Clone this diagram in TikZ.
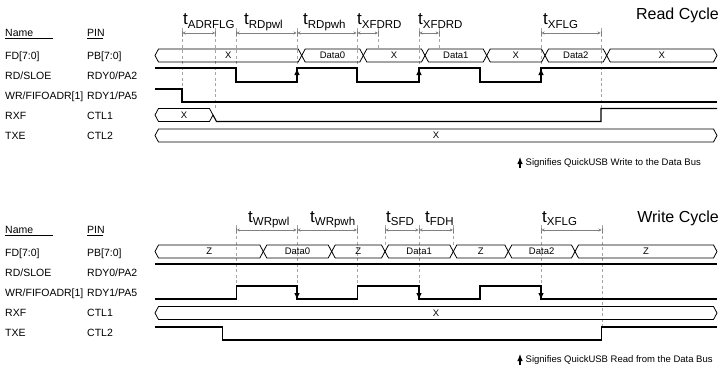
\documentclass[tikz,border=0pt]{standalone}
\usepackage{fontspec}
\setmainfont{Liberation Sans}
\usetikzlibrary{arrows.meta}

\newcommand{\busseg}[5]{%
  \draw[bus] (#3,#2) -- (#3+3.5,#2-6.5) -- (#4-3.5,#2-6.5) -- (#4,#2)
    -- (#4-3.5,#2+6.5) -- (#3+3.5,#2+6.5) -- cycle;
  \node[buslbl] (#1) at ({(#3+#4)/2},#2) {#5};}
\newcommand{\tsub}[1]{t\raisebox{-3.5pt}{\fontsize{11.5}{12}\selectfont #1}}

\begin{document}
\begin{tikzpicture}[x=1pt,y=-1pt,
    sig/.style={anchor=base west,inner sep=0pt,font=\fontsize{10.5}{12}\selectfont},
    heading/.style={anchor=east,inner sep=0pt,font=\fontsize{16}{18}\selectfont},
    tlbl/.style={anchor=base west,inner sep=0pt,font=\fontsize{17}{18}\selectfont},
    note/.style={anchor=west,inner sep=0pt,font=\fontsize{9.5}{11}\selectfont},
    bus/.style={line width=0.8pt},
    buslbl/.style={inner sep=0pt,font=\fontsize{9.5}{11}\selectfont},
    wave/.style={line width=1.1pt},
    guide/.style={gray!70,dash pattern=on 3pt off 2.5pt,line width=0.7pt},
    dim/.style={gray,line width=0.5pt,>={Stealth[length=3pt,width=3pt]},|<->|},
    upar/.style={line width=1.1pt,-{Latex[length=7pt,width=5.5pt]}}]
    \useasboundingbox (0,0) rectangle (725,372);

    % Read Cycle
    \node[heading] (read) at (719,15) {Read Cycle};
    \node[sig] (rname) at (5,36.5) {Name};
    \node[sig] (rpin) at (87,36.5) {PIN};
    \draw[line width=0.6pt] (5,38.5) -- (53,38.5) (87,38.5) -- (103,38.5);
    \node[sig] (rfd) at (5,59) {FD[7:0]};
    \node[sig] (rfdp) at (87,59) {PB[7:0]};
    \node[sig] (rrd) at (5,79) {RD/SLOE};
    \node[sig] (rrdp) at (87,79) {RDY0/PA2};
    \node[sig] (rwr) at (5,99) {WR/FIFOADR[1]};
    \node[sig] (rwrp) at (87,99) {RDY1/PA5};
    \node[sig] (rrxf) at (5,119) {RXF};
    \node[sig] (rrxfp) at (87,119) {CTL1};
    \node[sig] (rtxe) at (5,139) {TXE};
    \node[sig] (rtxep) at (87,139) {CTL2};

    \draw[guide] (182,28) -- (182,89);
    \draw[guide] (215.7,28) -- (215.7,108.5);
    \draw[guide] (236,28) -- (236,68);
    \draw[guide] (297,28) -- (297,68);
    \draw[guide] (357,28) -- (357,68);
    \draw[guide] (378.3,28) -- (378.3,49);
    \draw[guide] (419,28) -- (419,68);
    \draw[guide] (439.3,28) -- (439.3,49);
    \draw[guide] (541,28) -- (541,68);
    \draw[guide] (601,28) -- (601,108.5);

    \draw[dim] (182,33) -- (215.7,33);
    \draw[dim] (236,33) -- (297,33);
    \draw[dim] (297,33) -- (357,33);
    \draw[dim] (357,33) -- (378.3,33);
    \draw[dim] (419,33) -- (439.3,33);
    \draw[dim] (541,33) -- (601,33);

    \node[tlbl] (tadrflg) at (183,24.5) {\tsub{ADRFLG}};
    \node[tlbl] (trdpwl) at (244,24.5) {\tsub{RDpwl}};
    \node[tlbl] (trdpwh) at (303,24.5) {\tsub{RDpwh}};
    \node[tlbl] (txfdrd1) at (357,24.5) {\tsub{XFDRD}};
    \node[tlbl] (txfdrd2) at (418,24.5) {\tsub{XFDRD}};
    \node[tlbl] (trxflg) at (543,24.5) {\tsub{XFLG}};

    \busseg{rfd1}{55.5}{155}{301.7}{X}
    \busseg{rfd2}{55.5}{301.7}{363.3}{Data0}
    \busseg{rfd3}{55.5}{363.3}{425}{X}
    \busseg{rfd4}{55.5}{425}{486.7}{Data1}
    \busseg{rfd5}{55.5}{486.7}{545}{X}
    \busseg{rfd6}{55.5}{545}{606.7}{Data2}
    \busseg{rfd7}{55.5}{606.7}{717}{X}
    \draw[wave] (155,68) -| (236,82) -| (297,68) -| (357,82) -| (419,68)
        -| (480,82) -| (541,68) -- (717,68);
    \draw[upar] (297,81) -- (297,68);
    \draw[upar] (419,81) -- (419,68);
    \draw[upar] (541,81) -- (541,68);
    \draw[wave] (155,89) -| (182,102) -- (717,102);
    \busseg{rrxf1}{115}{155}{213}{X}
    \draw[wave] (213,115) -- (216.5,121.5) -| (601,108.5) -- (717,108.5);
    \busseg{rtxe1}{135.5}{155}{717}{X}

    \draw[upar] (520,168) -- (520,157);
    \node[note] (rnote) at (525.5,163) {Signifies QuickUSB Write to the Data Bus};

    % Write Cycle
    \node[heading] (write) at (719,218) {Write Cycle};
    \node[sig] (wname) at (5,233.5) {Name};
    \node[sig] (wpin) at (87,233.5) {PIN};
    \draw[line width=0.6pt] (5,235.5) -- (53,235.5) (87,235.5) -- (103,235.5);
    \node[sig] (wfd) at (5,256) {FD[7:0]};
    \node[sig] (wfdp) at (87,256) {PB[7:0]};
    \node[sig] (wrd) at (5,276) {RD/SLOE};
    \node[sig] (wrdp) at (87,276) {RDY0/PA2};
    \node[sig] (wwr) at (5,296) {WR/FIFOADR[1]};
    \node[sig] (wwrp) at (87,296) {RDY1/PA5};
    \node[sig] (wrxf) at (5,316) {RXF};
    \node[sig] (wrxfp) at (87,316) {CTL1};
    \node[sig] (wtxe) at (5,336) {TXE};
    \node[sig] (wtxep) at (87,336) {CTL2};

    \draw[guide] (236.3,225) -- (236.3,286);
    \draw[guide] (297,225) -- (297,299);
    \draw[guide] (357.3,225) -- (357.3,286);
    \draw[guide] (385,225) -- (385,245);
    \draw[guide] (419,225) -- (419,299);
    \draw[guide] (453.3,225) -- (453.3,245);
    \draw[guide] (541,225) -- (541,299);
    \draw[guide] (602,225) -- (602,327);

    \draw[dim] (236.3,230) -- (297,230);
    \draw[dim] (297,230) -- (357.3,230);
    \draw[dim] (385,230) -- (419,230);
    \draw[dim] (419,230) -- (453.3,230);
    \draw[dim] (541,230) -- (602,230);

    \node[tlbl] (twrpwl) at (248,222) {\tsub{WRpwl}};
    \node[tlbl] (twrpwh) at (310,222) {\tsub{WRpwh}};
    \node[tlbl] (tsfd) at (386,222) {\tsub{SFD}};
    \node[tlbl] (tfdh) at (425,222) {\tsub{FDH}};
    \node[tlbl] (twxflg) at (542,222) {\tsub{XFLG}};

    \busseg{wfd1}{251.5}{155}{263.3}{Z}
    \busseg{wfd2}{251.5}{263.3}{331.7}{Data0}
    \busseg{wfd3}{251.5}{331.7}{385}{Z}
    \busseg{wfd4}{251.5}{385}{453.3}{Data1}
    \busseg{wfd5}{251.5}{453.3}{508.3}{Z}
    \busseg{wfd6}{251.5}{508.3}{575}{Data2}
    \busseg{wfd7}{251.5}{575}{717}{Z}
    \draw[wave] (155,264) -- (717,264);
    \draw[wave] (155,299) -| (236.3,286) -| (297,299) -| (357.3,286) -| (419,299)
        -| (480,286) -| (541,299) -- (717,299);
    \draw[upar] (297,287) -- (297,300);
    \draw[upar] (419,287) -- (419,300);
    \draw[upar] (541,287) -- (541,300);
    \busseg{wrxf1}{313}{155}{717}{X}
    \draw[wave] (155,327) -| (222.7,340) -| (601.7,327) -- (717,327);

    \draw[upar] (520,365) -- (520,354);
    \node[note] (wnote) at (525.5,360) {Signifies QuickUSB Read from the Data Bus};
\end{tikzpicture}
\end{document}
